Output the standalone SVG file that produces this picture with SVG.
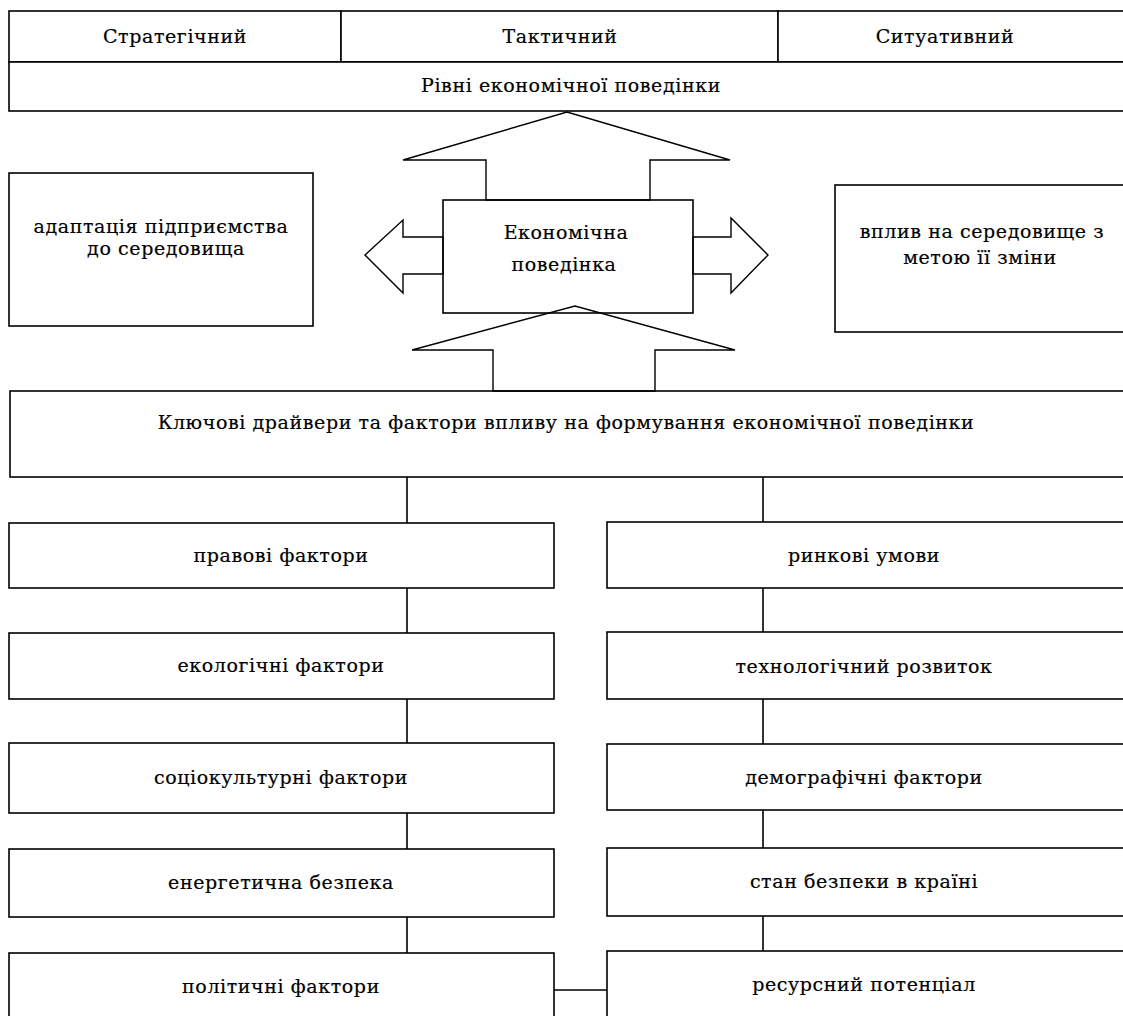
<svg xmlns="http://www.w3.org/2000/svg" width="1123" height="1016" viewBox="0 0 1123 1016">
<style>
.b{fill:#fff;stroke:#000;stroke-width:1.6}
.a{fill:none;stroke:#000;stroke-width:1.4;stroke-linejoin:miter}
.c{fill:none;stroke:#000;stroke-width:1.6}
text{font-family:"DejaVu Serif","Liberation Serif",serif;font-size:19px;letter-spacing:0.6px;fill:#000;stroke:#000;stroke-width:0.2;text-anchor:middle}
</style>
<rect width="1123" height="1016" fill="#fff"/>
<g id="levels-table">
<g id="strategic"><rect class="b" x="9" y="11" width="332" height="51"/><text x="175" y="43">Стратегічний</text></g>
<g id="tactical"><rect class="b" x="341" y="11" width="437" height="51"/><text x="560" y="43">Тактичний</text></g>
<g id="situational"><rect class="b" x="778" y="11" width="350" height="51"/><text x="945" y="43">Ситуативний</text></g>
<g id="levels"><rect class="b" x="9" y="62" width="1119" height="49"/><text x="571" y="92">Рівні економічної поведінки</text></g>
</g>
<g id="adaptation"><rect class="b" x="9" y="173" width="304" height="153"/><text x="161" y="233">адаптація підприємства</text><text x="166" y="255">до середовища</text></g>
<g id="influence"><rect class="b" x="835" y="185" width="295" height="147"/><text x="982" y="238">вплив на середовище з</text><text x="980" y="264">метою її зміни</text></g>
<g id="economic-behavior"><rect class="b" x="443" y="200" width="250" height="113"/><text x="566" y="239">Економічна</text><text x="564" y="271">поведінка</text></g>
<g id="key-drivers"><rect class="b" x="10" y="391" width="1118" height="86"/><text x="566" y="429">Ключові драйвери та фактори впливу на формування економічної поведінки</text></g>
<g id="legal"><rect class="b" x="9" y="523" width="545" height="65"/><text x="281" y="562">правові фактори</text></g>
<g id="ecological"><rect class="b" x="9" y="633" width="545" height="66"/><text x="281" y="672">екологічні фактори</text></g>
<g id="sociocultural"><rect class="b" x="9" y="743" width="545" height="70"/><text x="281" y="784">соціокультурні фактори</text></g>
<g id="energy"><rect class="b" x="9" y="849" width="545" height="68"/><text x="281" y="889">енергетична безпека</text></g>
<g id="political"><rect class="b" x="9" y="953" width="545" height="80"/><text x="281" y="993">політичні фактори</text></g>
<g id="market"><rect class="b" x="607" y="522" width="521" height="66"/><text x="864" y="562">ринкові умови</text></g>
<g id="technology"><rect class="b" x="607" y="632" width="521" height="67"/><text x="864" y="673">технологічний розвиток</text></g>
<g id="demographic"><rect class="b" x="607" y="744" width="521" height="66"/><text x="864" y="784">демографічні фактори</text></g>
<g id="security"><rect class="b" x="607" y="848" width="521" height="68"/><text x="864" y="888">стан безпеки в країні</text></g>
<g id="resources"><rect class="b" x="607" y="951" width="521" height="80"/><text x="864" y="991">ресурсний потенціал</text></g>
<g id="connectors">
<polygon class="a" points="486,200 486,160 403,160 567,112 730,160 650,160 650,200"/>
<polygon class="a" points="443,237 403,237 403,220 365,255 403,293 403,274 443,274"/>
<polygon class="a" points="693,237 731,237 731,218 768,255 731,293 731,274 693,274"/>
<polygon class="a" points="493,391 493,350 412,350 575,306 735,350 655,350 655,391"/>
<path class="c" d="M407 477V523M407 588V633M407 699V743M407 813V849M407 917V953M763 477V522M763 588V632M763 699V744M763 810V848M763 916V951M554 990H607"/>
</g>
</svg>
